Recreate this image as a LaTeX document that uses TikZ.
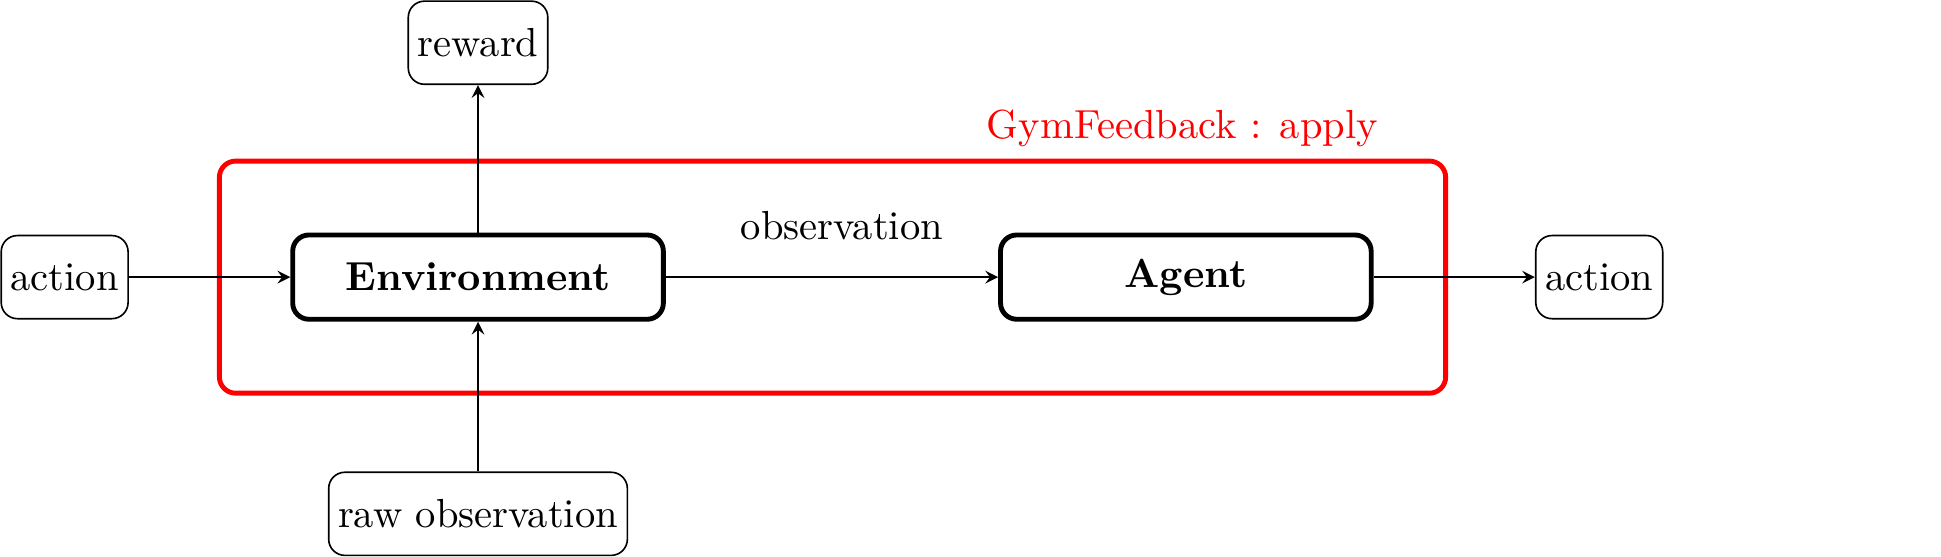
\documentclass[tikz,border=0pt]{standalone}
\usetikzlibrary{positioning}
\begin{document}
\begin{tikzpicture}[>=stealth,
    io/.style={draw, rounded corners=4pt, inner sep=2.3pt, minimum height=0.72cm},
    block/.style={draw, very thick, rounded corners=4pt, minimum width=3.21cm, minimum height=0.73cm, font=\bfseries}]
    \useasboundingbox (-4.14, -2.42) rectangle (12.67, 2.40);

    % feedback wrapper
    \node[draw=red, very thick, rounded corners=4pt, minimum width=10.62cm, minimum height=2.01cm] (fb) at (3.07, 0) {};
    \node[red, above] (fblabel) at (6.10, 1.0) {GymFeedback : apply};

    % environment and agent
    \node[block] (env) at (0, 0) {Environment};
    \node[block] (agent) at (6.13, 0) {Agent};

    % inputs and outputs
    \node[io] (actin) at (-3.58, 0) {action};
    \node[io] (actout) at (9.71, 0) {action};
    \node[io] (reward) at (0, 2.03) {reward};
    \node[io] (raw) at (0, -2.05) {raw observation};

    % arrows
    \draw[->] (actin) -- (env);
    \draw[->] (env) -- node[above=5.6pt, pos=0.53] (obs) {observation} (agent);
    \draw[->] (agent) -- (actout);
    \draw[->] (env) -- (reward);
    \draw[->] (raw) -- (env);
\end{tikzpicture}
\end{document}
